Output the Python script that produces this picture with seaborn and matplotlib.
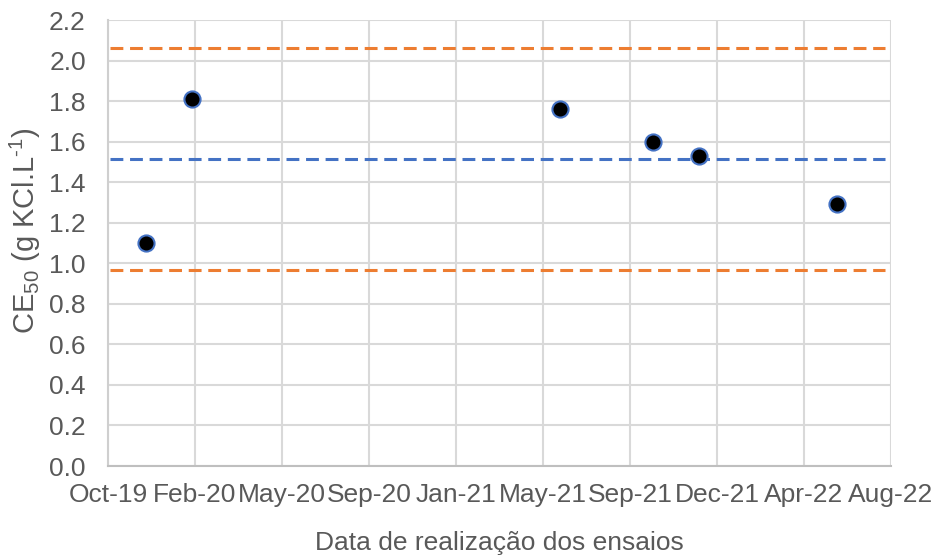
import matplotlib
matplotlib.use("Agg")
import matplotlib.pyplot as plt
import matplotlib.dates as mdates
import seaborn as sns
import pandas as pd
import numpy as np

# Ensaios de sensibilidade com KCl (CE50)
datas = ["2019-12-03", "2020-02-02", "2021-06-03", "2021-10-03", "2021-12-03", "2022-06-04"]
ce50 = [1.10, 1.81, 1.76, 1.60, 1.53, 1.29]

# Carta-controle: média e limites (média ± 2 DP)
media = 1.515
limite_superior = 2.064
limite_inferior = 0.966

# Eixo de datas
eixo_inicio = "2019-10-14"
eixo_passo_dias = 115
n_marcas = 10
y_marcas = [0.0, 0.2, 0.4, 0.6, 0.8, 1.0, 1.2, 1.4, 1.6, 1.8, 2.0, 2.2]

texto_cor = "#595959"
grade_cor = "#D9D9D9"
azul = "#4472C4"
laranja = "#ED7D31"

sns.set_style("white")
plt.rcParams["font.family"] = ["Liberation Sans", "DejaVu Sans"]
plt.rcParams["mathtext.fontset"] = "custom"
plt.rcParams["mathtext.rm"] = "Liberation Sans"
plt.rcParams["mathtext.it"] = "Liberation Sans:italic"

df = pd.DataFrame({"data": pd.to_datetime(datas), "ce50": ce50})

fig = plt.figure(figsize=(9.38, 5.59), dpi=100)
ax = fig.add_axes([108 / 938, 1 - 466 / 559, 783 / 938, 446 / 559])

marcas = pd.date_range(eixo_inicio, periods=n_marcas, freq=f"{eixo_passo_dias}D")

traco = dict(lw=2.2, dashes=(4.2, 2.2), xmin=0.003, xmax=0.992, zorder=2)
ax.axhline(limite_superior, color=laranja, **traco)
ax.axhline(media, color=azul, **traco)
ax.axhline(limite_inferior, color=laranja, **traco)

sns.scatterplot(data=df, x="data", y="ce50", s=135, color="black",
                edgecolor=azul, linewidth=1.5, zorder=4, ax=ax, legend=False)

ax.set_xlim(marcas[0], marcas[-1])
ax.set_ylim(0, 2.2)
ax.set_xticks(marcas)
ax.xaxis.set_major_formatter(mdates.DateFormatter("%b-%y"))
ax.set_yticks(y_marcas)
ax.set_yticklabels([f"{v:.1f}" for v in y_marcas])

ax.grid(True, color=grade_cor, lw=1.5)
ax.set_axisbelow(True)

for lado in ["top", "right"]:
    ax.spines[lado].set_visible(False)
ax.spines["left"].set_color("#CFCFCF")
ax.spines["left"].set_linewidth(1.5)
ax.spines["bottom"].set_color("#BFBFBF")
ax.spines["bottom"].set_linewidth(1.5)

ax.tick_params(axis="y", length=0, pad=16, labelsize=19, labelcolor=texto_cor)
ax.tick_params(axis="x", length=6, width=1.2, color="#BFBFBF", pad=6,
               labelsize=19, labelcolor=texto_cor)

ax.set_xlabel("Data de realização dos ensaios", fontsize=19, color=texto_cor)
ax.xaxis.label.set_va("center")
ax.xaxis.set_label_coords(0.5, -0.173)

ax.set_ylabel(r"CE$_{\mathregular{50}}$ (g KCl.L$^{\text{-1}}$)",
              fontsize=21, color=texto_cor)
ax.yaxis.label.set_va("center")
ax.yaxis.set_label_coords(-0.106, 0.527)

fig.savefig("out.png", dpi=100)
